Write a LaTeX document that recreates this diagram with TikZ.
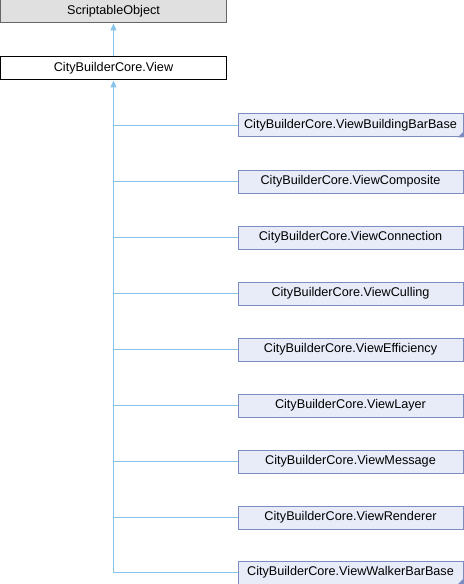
\documentclass[tikz,border=0pt]{standalone}
\usepackage{fontspec}
\setmainfont{Liberation Sans}
\usetikzlibrary{arrows.meta}
\definecolor{edgeblue}{HTML}{88C4EA}
\definecolor{basefill}{HTML}{E0E0E0}
\definecolor{baseline}{HTML}{666666}
\definecolor{childfill}{HTML}{E8ECF8}
\definecolor{childline}{HTML}{7C8CC0}
\begin{document}
\begin{tikzpicture}[x=1bp,y=-1bp,
  font=\fontsize{12.7}{15}\selectfont,
  cls/.style={draw=black,fill=white,minimum width=225bp,minimum height=23bp,inner sep=0pt,line width=1bp},
  basecls/.style={cls,draw=baseline,fill=basefill},
  childcls/.style={cls,draw=childline,fill=childfill},
  inh/.style={draw=edgeblue,line width=1.3bp},
  tip/.style={-{Triangle[width=6bp,length=7bp]},edgeblue,line width=1.3bp}]
\useasboundingbox (0,0) rectangle (464,584);
\node[basecls] (so) at (113.5,11.5) {ScriptableObject};
\node[cls] (view) at (113.5,68.5) {CityBuilderCore.View};
\draw[tip] (view.north) -- (so.south);
\foreach \n/\t/\y in {bb/ViewBuildingBarBase/125.5, co/ViewComposite/181.5, cn/ViewConnection/237.5,
  cu/ViewCulling/293.5, ef/ViewEfficiency/349.5, la/ViewLayer/405.5, me/ViewMessage/461.5,
  re/ViewRenderer/517.5, wb/ViewWalkerBarBase/572.5}{
  \node[childcls] (\n) at (350.5,\y) {CityBuilderCore.\t};
}
\coordinate (trunk) at (113.5,572.5);
\draw[inh] (view.south) ++(0,6) -- (trunk);
\draw[tip] (view.south) ++(0,7) -- (view.south);
\foreach \n in {bb,co,cn,cu,ef,la,me,re,wb}{
  \draw[inh] (\n.west) -- (\n.west -| trunk);
}
\foreach \n in {bb,wb}{
  \fill[childline] (\n.south east) -- ++(-6,0) -- ++(6,-6) -- cycle;
}
\end{tikzpicture}
\end{document}
